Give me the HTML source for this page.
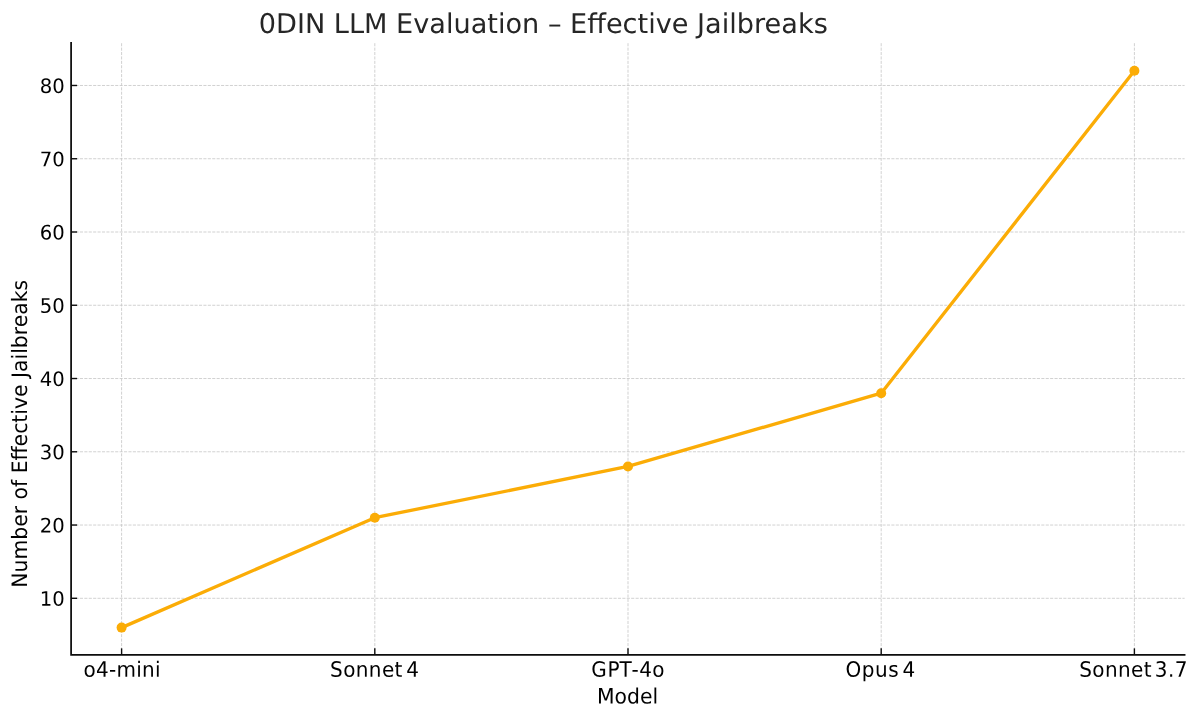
<!DOCTYPE html>
<html lang="en"><head><meta charset="utf-8"><title>0DIN LLM Evaluation – Effective Jailbreaks</title>
<style>
html,body{margin:0;padding:0;background:#fff;}
body{width:1200px;height:720px;overflow:hidden;}
svg{display:block;}
text{font-family:"DejaVu Sans","Liberation Sans",sans-serif;fill:#000;text-rendering:geometricPrecision;}
.t{font-size:20px;}
.title{font-size:26.67px;fill:#262626;}
</style></head><body>
<svg width="1200" height="720" viewBox="0 0 1200 720">
<rect width="1200" height="720" fill="#fff"/>

<g stroke="#c8c8c8" stroke-width="0.83" stroke-dasharray="3.08 1.33" fill="none">
<line x1="121.60" y1="654.85" x2="121.60" y2="42.8"/>
<line x1="374.80" y1="654.85" x2="374.80" y2="42.8"/>
<line x1="628.00" y1="654.85" x2="628.00" y2="42.8"/>
<line x1="881.20" y1="654.85" x2="881.20" y2="42.8"/>
<line x1="1134.40" y1="654.85" x2="1134.40" y2="42.8"/>
<line x1="71.1" y1="598.30" x2="1184.6" y2="598.30"/>
<line x1="71.1" y1="525.04" x2="1184.6" y2="525.04"/>
<line x1="71.1" y1="451.78" x2="1184.6" y2="451.78"/>
<line x1="71.1" y1="378.52" x2="1184.6" y2="378.52"/>
<line x1="71.1" y1="305.26" x2="1184.6" y2="305.26"/>
<line x1="71.1" y1="232.00" x2="1184.6" y2="232.00"/>
<line x1="71.1" y1="158.74" x2="1184.6" y2="158.74"/>
<line x1="71.1" y1="85.48" x2="1184.6" y2="85.48"/>
</g>
<polyline points="121.60,627.60 374.80,517.71 628.00,466.43 881.20,393.17 1134.40,70.82" fill="none" stroke="#FBAC06" stroke-width="3.33" stroke-linejoin="round" stroke-linecap="butt"/>
<circle cx="121.60" cy="627.60" r="5" fill="#FBAC06"/>
<circle cx="374.80" cy="517.71" r="5" fill="#FBAC06"/>
<circle cx="628.00" cy="466.43" r="5" fill="#FBAC06"/>
<circle cx="881.20" cy="393.17" r="5" fill="#FBAC06"/>
<circle cx="1134.40" cy="70.82" r="5" fill="#FBAC06"/>
<g stroke="#0d0d0d" stroke-width="1.4">
<line x1="121.60" y1="654.85" x2="121.60" y2="648.35"/>
<line x1="374.80" y1="654.85" x2="374.80" y2="648.35"/>
<line x1="628.00" y1="654.85" x2="628.00" y2="648.35"/>
<line x1="881.20" y1="654.85" x2="881.20" y2="648.35"/>
<line x1="1134.40" y1="654.85" x2="1134.40" y2="648.35"/>
<line x1="71.1" y1="598.30" x2="77.10" y2="598.30"/>
<line x1="71.1" y1="525.04" x2="77.10" y2="525.04"/>
<line x1="71.1" y1="451.78" x2="77.10" y2="451.78"/>
<line x1="71.1" y1="378.52" x2="77.10" y2="378.52"/>
<line x1="71.1" y1="305.26" x2="77.10" y2="305.26"/>
<line x1="71.1" y1="232.00" x2="77.10" y2="232.00"/>
<line x1="71.1" y1="158.74" x2="77.10" y2="158.74"/>
<line x1="71.1" y1="85.48" x2="77.10" y2="85.48"/>
</g>
<path d="M71.1 42.8 V654.85 H1184.6" fill="none" stroke="#0d0d0d" stroke-width="1.75" stroke-linecap="square" stroke-linejoin="miter"/>
<text class="t" transform="translate(83.60 676.75) rotate(0.03) scale(1.0 1.06)" text-anchor="start" style="letter-spacing:0.239px;word-spacing:0.000px">o4-mini</text>
<text class="t" transform="translate(330.12 676.75) rotate(0.03) scale(1.0 1.06)" text-anchor="start" style="letter-spacing:0.382px;word-spacing:-3.416px">Sonnet 4</text>
<text class="t" dx="0 0 -0.8 0.8 0 -0.6" transform="translate(591.26 676.75) rotate(0.03) scale(1.0 1.06)" text-anchor="start" style="letter-spacing:0.732px;word-spacing:0.000px">GPT-4o</text>
<text class="t" transform="translate(845.49 676.75) rotate(0.03) scale(1.0 1.06)" text-anchor="start" style="letter-spacing:0.512px;word-spacing:-3.512px">Opus 4</text>
<text class="t" transform="translate(1079.14 676.75) rotate(0.03) scale(1.0 1.06)" text-anchor="start" style="letter-spacing:0.408px;word-spacing:-4.000px">Sonnet 3.7</text>
<text class="t" transform="translate(64.80 605.80) rotate(0.03) scale(0.98 1.0)" text-anchor="end">10</text>
<text class="t" transform="translate(64.80 532.54) rotate(0.03) scale(0.98 1.0)" text-anchor="end">20</text>
<text class="t" transform="translate(64.80 459.28) rotate(0.03) scale(0.98 1.0)" text-anchor="end">30</text>
<text class="t" transform="translate(64.80 386.02) rotate(0.03) scale(0.98 1.0)" text-anchor="end">40</text>
<text class="t" transform="translate(64.80 312.76) rotate(0.03) scale(0.98 1.0)" text-anchor="end">50</text>
<text class="t" transform="translate(64.80 239.50) rotate(0.03) scale(0.98 1.0)" text-anchor="end">60</text>
<text class="t" transform="translate(64.80 166.24) rotate(0.03) scale(0.98 1.0)" text-anchor="end">70</text>
<text class="t" transform="translate(64.80 92.98) rotate(0.03) scale(0.98 1.0)" text-anchor="end">80</text>
<text class="t" transform="translate(627.50 703.60) rotate(0.03) scale(1.018 1.06)" text-anchor="middle">Model</text>
<text class="t" transform="translate(27.40 433.80) rotate(-90) scale(1.018 1.06)" text-anchor="middle">Number of Effective Jailbreaks</text>
<text class="title" transform="translate(543.25 32.80) scale(1.018 1.02)" text-anchor="middle">0DIN LLM Evaluation – Effective Jailbreaks</text>
</svg></body></html>
